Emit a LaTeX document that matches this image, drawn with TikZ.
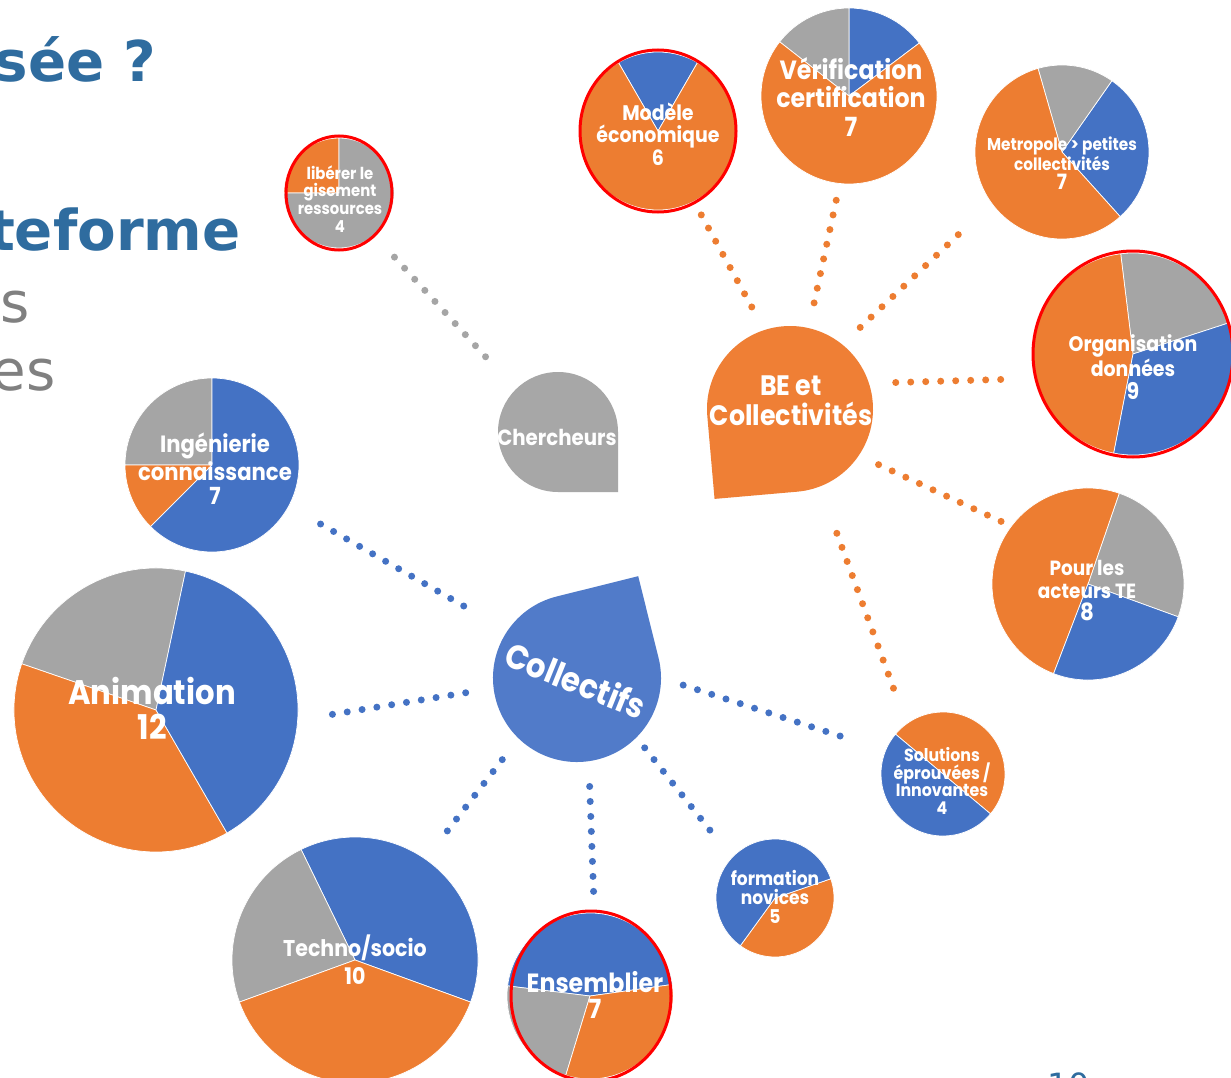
\documentclass[tikz,border=0pt]{standalone}
\usepackage{fontspec}
\newfontfamily\bubblefont{Poppins}[FakeStretch=0.9]
\newfontfamily\slidefont{DejaVu Sans}

\definecolor{pieblue}{HTML}{4472C4}
\definecolor{pieorange}{HTML}{ED7D31}
\definecolor{piegrey}{HTML}{A5A5A5}
\definecolor{dropblue}{HTML}{517BC9}
\definecolor{droporange}{HTML}{EF7F35}
\definecolor{dropgrey}{HTML}{A7A7A7}
\definecolor{titleblue}{HTML}{2F6C9F}
\definecolor{bodygrey}{HTML}{808080}

\tikzset{
	hub/.style={circle, inner sep=0pt},
	lbl/.style 2 args={text=white, align=center, inner sep=0pt, font=\bubblefont\bfseries\fontsize{#1}{#2}\selectfont},
	title/.style={inner sep=0pt, text=titleblue, font=\slidefont\bfseries\fontsize{32}{38}\selectfont},
	body/.style={inner sep=0pt, text=bodygrey, font=\slidefont\fontsize{32}{38}\selectfont},
	dots/.style={line width=0.14cm, line cap=round, dash pattern=on 0pt off 0.3cm},
	bedots/.style={dots, pieorange},
	coldots/.style={dots, pieblue},
	redring/.style={draw=red, line width=0.06cm},
}

% pie: name, centre, radius, slices start/end/colour
\newcommand{\piechart}[4]{%
	\node[hub, minimum size=#3*0.04cm] (#1) at (#2) {};
	\foreach \angA/\angB/\slicecol in {#4}
		\fill[\slicecol, draw=white, line width=0.4pt, shift={(#2)}] (0,0) -- (\angA:#3) arc[start angle=\angA, end angle=\angB, radius=#3] -- cycle;
}
% drop: name, centre, radius, corner angle, colour
\newcommand{\teardrop}[5]{%
	\fill[#5, shift={(#2)}] (#4:#3*1.4142) -- (#4+45:#3) arc[start angle=#4+45, delta angle=270, radius=#3] -- cycle;
	\node[hub, minimum size=#3*0.04cm] (#1) at (#2) {};
}

\begin{document}
\begin{tikzpicture}[x=0.02cm, y=0.02cm]
	\useasboundingbox (0,0) rectangle (1231,-1078);
	\fill[white] (0,0) rectangle (1231,-1078);

	% slide text
	\node[title, anchor=base east] (title1) at (157,-82) {sée ?};
	\node[title, anchor=base east] (title2) at (241,-250) {teforme};
	\node[body, anchor=base east] (body1) at (30,-322) {s};
	\node[body, anchor=base east] (body2) at (56,-390) {es};
	\node[inner sep=0pt, text=titleblue, font=\slidefont\fontsize{19}{22}\selectfont, anchor=north west] (page) at (1047,-1072) {10};

	% pies
	\piechart{liberer}{339,-193}{55}{90/180/pieorange, 180/450/piegrey}
	\piechart{modele}{658,-131}{79}{60/120/pieblue, 120/420/pieorange}
	\piechart{verif}{849,-96}{88}{37/90/pieblue, 90/142/piegrey, 142/397/pieorange}
	\piechart{metro}{1062,-152}{87}{-48/55/pieblue, 55/106/piegrey, 106/312/pieorange}
	\piechart{orga}{1133,-354}{101}{18/97/piegrey, 97/259/pieorange, 259/378/pieblue}
	\piechart{acteurs}{1088,-584}{96}{-20/71/piegrey, 71/249/pieorange, 249/340/pieblue}
	\piechart{solutions}{943,-774}{62}{-40/140/pieorange, 140/320/pieblue}
	\piechart{formation}{775,-898}{59}{-126/19/pieorange, 19/234/pieblue}
	\piechart{inge}{212,-465}{87}{90/180/piegrey, 180/225/pieorange, 225/450/pieblue}
	\piechart{animation}{156,-710}{142}{78/161/piegrey, 161/300/pieorange, 300/438/pieblue}
	\piechart{techno}{355,-960}{123}{-20/116/pieblue, 116/200/piegrey, 200/340/pieorange}
	\piechart{ensemblier}{590,-996}{83}{8/173/pieblue, 173/253/piegrey, 253/368/pieorange}

	% hubs
	\teardrop{chercheurs}{558,-432}{60}{-45}{dropgrey}
	\teardrop{be}{790,-409}{83}{230}{droporange}
	\teardrop{col}{577,-678}{84}{59}{dropblue}

	% circled ones
	\draw[redring] (liberer.center) ellipse[x radius=53, y radius=57];
	\draw[redring] (modele.center) ellipse[x radius=78, y radius=81];
	\draw[redring] (orga.center) ellipse[x radius=100, y radius=103];
	\draw[redring] (591,-996) ellipse[x radius=80, y radius=85];

	% links
	\draw[dots, piegrey, shorten <=0.59cm, shorten >=0.6cm] (liberer.-50) -- (chercheurs.135);
	\draw[bedots, shorten <=0.52cm, shorten >=0.3cm] (be.108) -- (modele.-63);
	\draw[bedots, shorten <=0.51cm, shorten >=0.33cm] (be.77) -- (verif.-96);
	\draw[bedots, shorten <=0.49cm, shorten >=0.62cm] (be.51) -- (metro.216);
	\draw[bedots, shorten <=0.53cm, shorten >=0.45cm] (be.18) -- (orga.194);
	\draw[bedots, shorten <=0.43cm, shorten >=0.22cm] (be.-34) -- (acteurs.143);
	\draw[bedots, shorten <=0.99cm, shorten >=0.49cm] (be.-69) -- (solutions.126);
	\draw[coldots, shorten <=1cm, shorten >=0.71cm] (col.146) -- (inge.-28);
	\draw[coldots, shorten <=0.56cm, shorten >=0.43cm] (col.187) -- (animation.-4);
	\draw[coldots, shorten <=0.53cm, shorten >=0.44cm] (col.226) -- (techno.55);
	\draw[coldots, shorten <=0.5cm, shorten >=0.4cm] (col.-82) -- (ensemblier.87);
	\draw[coldots, shorten <=0.26cm, shorten >=0.42cm] (col.-45) -- (formation.137);
	\draw[coldots, shorten <=0.46cm, shorten >=0.68cm] (col.0) -- (solutions.158);

	% labels
	\node[lbl={9.4}{10.2}] (liberer-txt) at (340,-199) {libérer le\\gisement\\ressources\\4};
	\node[lbl={12}{12.8}] (modele-txt) at (658,-134) {Modèle\\économique\\6};
	\node[lbl={15}{16}] (verif-txt) at (851,-97) {Vérification\\certification\\7};
	\node[lbl={9.7}{10.5}] (metro-txt) at (1062,-163) {Metropole > petites\\collectivités\\{\fontsize{12}{14}\selectfont 7}};
	\node[lbl={12}{13}] (orga-txt) at (1133,-367) {Organisation\\données\\{\fontsize{13}{14}\selectfont 9}};
	\node[lbl={11.7}{12.8}] (acteurs-txt) at (1087,-591) {Pour les\\acteurs TE\\{\fontsize{13.5}{14}\selectfont 8}};
	\node[lbl={10}{10}] (solutions-txt) at (942,-781) {Solutions\\éprouvées /\\Innovantes\\4};
	\node[lbl={10.8}{10.8}] (formation-txt) at (775,-897) {formation\\novices\\5};
	\node[lbl={13.4}{14}] (inge-txt) at (215,-469) {Ingénierie\\connaissance\\7};
	\node[lbl={19.4}{20}] (animation-txt) at (152,-708) {Animation\\12};
	\node[lbl={13}{16}] (techno-txt) at (355,-960) {Techno/socio\\10};
	\node[lbl={15}{14.5}] (ensemblier-txt) at (595,-995) {Ensemblier\\7};
	\node[lbl={12.5}{13}] (chercheurs-txt) at (557,-437) {Chercheurs};
	\node[lbl={16}{17}] (be-txt) at (791,-401) {BE et\\Collectivités};
	\node[lbl={19.4}{20}, rotate=-22] (col-txt) at (576,-680) {Collectifs};
\end{tikzpicture}
\end{document}
